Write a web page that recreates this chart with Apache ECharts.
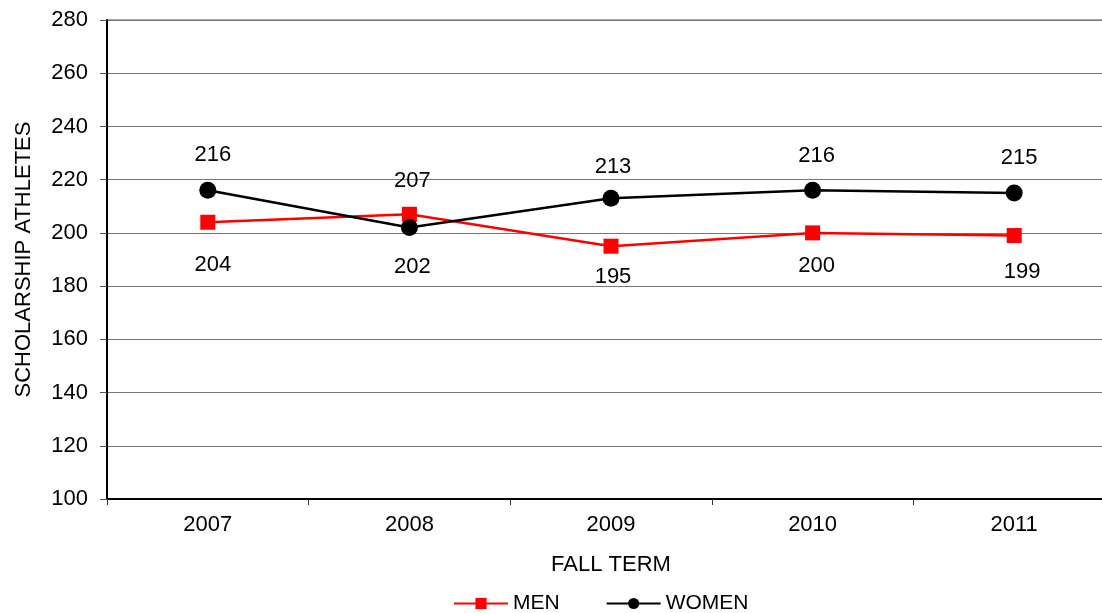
<!DOCTYPE html>
<html>
<head>
<meta charset="utf-8">
<script src="https://cdn.jsdelivr.net/npm/echarts@6/dist/echarts.min.js"></script>
<style>
html,body{margin:0;padding:0;background:#fff;}
#chart{width:1102px;height:613px;}
</style>
</head>
<body>
<div id="chart"></div>
<script>
const categories = ['2007', '2008', '2009', '2010', '2011'];
const menValues = [204, 207, 195, 200, 199];
const womenValues = [216, 202, 213, 216, 215];
const yTicks = { min: 100, max: 280, interval: 20 };
// label placement relative to each point (dx, dy) in px
const menLabelOffsets = [[5, 43], [3, -33], [2, 31], [4, 33], [8, 36]];
const womenLabelOffsets = [[5, -35], [3, 39], [2, -31], [4, -34], [5, -35]];

const FONT = '"Liberation Sans", Arial, sans-serif';
const FS = 22;

function buildData(values, offsets) {
  return values.map((v, i) => ({
    value: v,
    label: { offset: offsets[i] }
  }));
}

const chart = echarts.init(document.getElementById('chart'), null, { renderer: 'canvas' });
chart.setOption({
  animation: false,
  backgroundColor: '#ffffff',
  textStyle: { fontFamily: FONT, color: '#000' },
  grid: {
    left: 107, width: 1008, top: 20, bottom: 114,
    outerBoundsMode: 'none',
    containLabel: false,
    show: true, borderColor: '#8a8a8a', borderWidth: 1.5, backgroundColor: 'transparent'
  },
  legend: {
    bottom: -6, left: 448,
    itemWidth: 54, itemHeight: 14, itemGap: 46,
    textStyle: { fontFamily: FONT, fontSize: 21, color: '#000' },
    data: ['MEN', 'WOMEN']
  },
  xAxis: {
    type: 'category',
    data: categories,
    boundaryGap: true,
    name: 'FALL TERM',
    nameLocation: 'middle',
    nameGap: 55,
    nameTextStyle: { fontFamily: FONT, fontSize: FS, color: '#000' },
    axisLine: { lineStyle: { color: '#000', width: 2 } },
    axisTick: { show: true, alignWithLabel: false, length: 6, lineStyle: { color: '#333', width: 1 } },
    axisLabel: { fontFamily: FONT, fontSize: FS, color: '#000', margin: 15 },
    splitLine: { show: false }
  },
  yAxis: {
    type: 'value',
    min: yTicks.min, max: yTicks.max, interval: yTicks.interval,
    name: 'SCHOLARSHIP ATHLETES',
    nameLocation: 'middle',
    nameGap: 72,
    nameRotate: 90,
    nameTextStyle: { fontFamily: FONT, fontSize: FS, color: '#000' },
    axisLine: { show: true, lineStyle: { color: '#000', width: 2 } },
    axisTick: { show: true, length: 7, lineStyle: { color: '#555', width: 1 } },
    axisLabel: { fontFamily: FONT, fontSize: FS, color: '#000', margin: 19 },
    splitLine: { show: true, lineStyle: { color: '#777', width: 1 } }
  },
  series: [
    {
      name: 'MEN',
      type: 'line',
      data: buildData(menValues, menLabelOffsets),
      symbol: 'rect',
      symbolSize: 15,
      itemStyle: { color: '#ff0000' },
      lineStyle: { color: '#ff0000', width: 2.5 },
      label: {
        show: true, position: 'inside',
        fontFamily: FONT, fontSize: FS, color: '#000',
        align: 'center', verticalAlign: 'middle'
      },
      z: 3
    },
    {
      name: 'WOMEN',
      type: 'line',
      data: buildData(womenValues, womenLabelOffsets),
      symbol: 'circle',
      symbolSize: 17,
      itemStyle: { color: '#000000' },
      lineStyle: { color: '#000000', width: 2.5 },
      label: {
        show: true, position: 'inside',
        fontFamily: FONT, fontSize: FS, color: '#000',
        align: 'center', verticalAlign: 'middle'
      },
      z: 4
    }
  ]
});
</script>
</body>
</html>
